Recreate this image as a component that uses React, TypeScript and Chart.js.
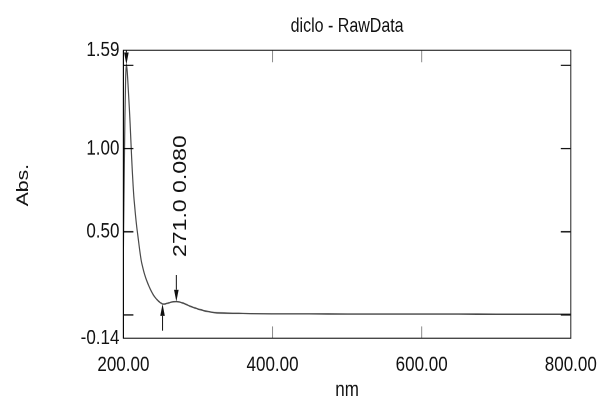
import React, { useEffect, useRef } from "react";
import { Chart, registerables } from "chart.js";

Chart.register(...registerables);

// ---------- data ----------
const TITLE = "diclo - RawData";
const X_LABEL = "nm";
const Y_LABEL = "Abs.";

const WAVELENGTHS = [
  200, 201, 202, 203, 204, 205, 206, 207, 208, 209, 210, 211, 212, 213, 214, 215, 216, 217, 218, 219, 220,
  222, 224, 226, 228, 230, 232, 234, 236, 238, 240,
  243, 246, 249, 252, 255, 258, 261, 264, 267,
  271, 275, 279, 283, 288, 294, 300, 307, 314, 322, 330, 340, 355, 370,
  400, 450, 500, 550, 600, 650, 700, 750, 800,
];
const ABSORBANCE = [
  0.40, 0.80, 1.18, 1.42, 1.505, 1.47, 1.40, 1.32, 1.24, 1.15, 1.05, 0.95, 0.86, 0.78, 0.71, 0.66, 0.61, 0.565, 0.525, 0.49, 0.455,
  0.385, 0.325, 0.285, 0.25, 0.222, 0.198, 0.176, 0.156, 0.138, 0.122,
  0.103, 0.088, 0.076, 0.067, 0.066, 0.069, 0.073, 0.077, 0.079,
  0.080, 0.078, 0.073, 0.066, 0.056, 0.045, 0.036, 0.027, 0.020, 0.015, 0.012, 0.010, 0.009, 0.008,
  0.007, 0.007, 0.006, 0.006, 0.006, 0.006, 0.005, 0.005, 0.005,
];

const X_MIN = 200;
const X_MAX = 800;
const Y_MIN = -0.14;
const Y_MAX = 1.59;
const X_TICKS = [200, 400, 600, 800];
const X_INNER_MARKS = [400, 600];
const Y_TICKS = [-0.14, 0, 0.5, 1.0, 1.5, 1.59];
const Y_TICK_LABELS = ["-0.14", "", "0.50", "1.00", "", "1.59"];
const Y_INNER_MARKS = [0, 0.5, 1.0, 1.5];

const PEAK_NM = 271.0;
const PEAK_ABS = 0.08;
const VALLEY_NM = 252.5;
const VALLEY_ABS = 0.066;
const MAIN_PEAK_NM = 204;
const MAIN_PEAK_ABS = 1.505;

// ---------- layout / style ----------
const W = 608;
const H = 320;
const SY = 399 / 320; // vertical stretch of the picture
const FONT = "'Liberation Sans', Arial, sans-serif";

const decor = {
  id: "decor",
  afterDraw(chart: any) {
    const { ctx, chartArea: ca } = chart;
    const xs = chart.scales.x;
    const ys = chart.scales.y;
    ctx.save();

    // inner tick marks
    ctx.lineWidth = 1;
    ctx.strokeStyle = "#000";
    for (const v of Y_INNER_MARKS) {
      const y = ys.getPixelForValue(v);
      ctx.beginPath();
      ctx.moveTo(ca.left, y);
      ctx.lineTo(ca.left + 10, y);
      ctx.moveTo(ca.right, y);
      ctx.lineTo(ca.right - 10, y);
      ctx.stroke();
    }
    ctx.strokeStyle = "#8c8c8c";
    for (const v of X_INNER_MARKS) {
      const x = xs.getPixelForValue(v);
      ctx.beginPath();
      ctx.moveTo(x, ca.bottom);
      ctx.lineTo(x, ca.bottom - 9.6);
      ctx.moveTo(x, ca.top);
      ctx.lineTo(x, ca.top + 9.6);
      ctx.stroke();
    }

    // frame
    ctx.strokeStyle = "#222";
    ctx.lineWidth = 1;
    ctx.strokeRect(ca.left, ca.top, ca.right - ca.left, ca.bottom - ca.top);
    ctx.strokeStyle = "#000";
    ctx.beginPath();
    ctx.moveTo(ca.left, ca.top);
    ctx.lineTo(ca.left, ca.bottom);
    ctx.stroke();

    // peak / valley arrows
    const arrow = (x: number, tipY: number, dir: number, stemStart?: number) => {
      const head = 9.6;
      const stem = 21.4;
      const from = stemStart !== undefined ? stemStart : tipY - dir * stem;
      ctx.strokeStyle = "#111";
      ctx.fillStyle = "#111";
      ctx.lineWidth = 1;
      ctx.beginPath();
      ctx.moveTo(x, from);
      ctx.lineTo(x, tipY - dir * head);
      ctx.stroke();
      ctx.beginPath();
      ctx.moveTo(x, tipY);
      ctx.lineTo(x - 2.3, tipY - dir * head);
      ctx.lineTo(x + 2.3, tipY - dir * head);
      ctx.closePath();
      ctx.fill();
    };
    ctx.save();
    ctx.beginPath();
    ctx.rect(ca.left, ca.top, ca.right - ca.left, ca.bottom - ca.top);
    ctx.clip();
    const px = xs.getPixelForValue(PEAK_NM);
    const py = ys.getPixelForValue(PEAK_ABS);
    arrow(px, py, 1);
    arrow(xs.getPixelForValue(VALLEY_NM), ys.getPixelForValue(VALLEY_ABS), -1);
    arrow(xs.getPixelForValue(MAIN_PEAK_NM), ys.getPixelForValue(MAIN_PEAK_ABS), 1, ca.top);
    ctx.restore();

    // peak label (rotated)
    ctx.fillStyle = "#111";
    ctx.save();
    ctx.translate(px + 9.5, py - 35.8);
    ctx.rotate(-Math.PI / 2);
    ctx.font = `18.5px ${FONT}`;
    ctx.textAlign = "left";
    ctx.textBaseline = "alphabetic";
    ctx.fillText(`${PEAK_NM.toFixed(1)} ${PEAK_ABS.toFixed(3)}`, 0, 0);
    ctx.restore();

    // title
    ctx.fillStyle = "#111";
    ctx.font = `16px ${FONT}`;
    ctx.textAlign = "center";
    ctx.textBaseline = "alphabetic";
    ctx.fillText(TITLE, (ca.left + ca.right) / 2, 25.4);

    // x axis title
    ctx.font = `17px ${FONT}`;
    ctx.fillText(X_LABEL, (ca.left + ca.right) / 2, 317.6);

    // y axis title
    ctx.save();
    ctx.translate(28, 148.4);
    ctx.rotate(-Math.PI / 2);
    ctx.textAlign = "center";
    ctx.fillText(Y_LABEL, 0, 0);
    ctx.restore();

    ctx.restore();
  },
};

export default function App() {
  const ref = useRef<HTMLCanvasElement | null>(null);

  useEffect(() => {
    if (!ref.current) return;
    const chart = new Chart(ref.current, {
      type: "line",
      data: {
        datasets: [
          {
            data: WAVELENGTHS.map((x, i) => ({ x, y: ABSORBANCE[i] })),
            borderColor: "#4a4a4a",
            borderWidth: 1.2,
            pointRadius: 0,
            cubicInterpolationMode: "monotone",
            fill: false,
          },
        ],
      },
      options: {
        animation: false,
        responsive: false,
        devicePixelRatio: 2,
        layout: { padding: { top: 40.34, right: 26.3, left: 0, bottom: 0 } },
        plugins: { legend: { display: false }, title: { display: false }, tooltip: { enabled: false } },
        scales: {
          x: {
            type: "linear",
            min: X_MIN,
            max: X_MAX,
            grid: { display: false, drawTicks: false },
            border: { display: false },
            afterBuildTicks: (s: any) => {
              s.ticks = X_TICKS.map((v) => ({ value: v }));
            },
            afterFit: (s: any) => {
              s.height = 48.7;
            },
            ticks: {
              padding: 11.2,
              maxRotation: 0,
              autoSkip: false,
              color: "#111",
              font: { family: FONT, size: 17 },
              callback: (v: any) => Number(v).toFixed(2),
            },
          },
          y: {
            type: "linear",
            min: Y_MIN,
            max: Y_MAX,
            grid: { display: false, drawTicks: false },
            border: { display: false },
            afterBuildTicks: (s: any) => {
              s.ticks = Y_TICKS.map((v) => ({ value: v }));
            },
            afterFit: (s: any) => {
              s.width = 123.4;
            },
            ticks: {
              padding: 4,
              autoSkip: false,
              color: "#111",
              font: { family: FONT, size: 17 },
              callback: (v: any) => {
                const i = Y_TICKS.findIndex((t) => Math.abs(t - Number(v)) < 1e-6);
                return i >= 0 ? Y_TICK_LABELS[i] : "";
              },
            },
          },
        },
      },
      plugins: [decor],
    } as any);
    return () => chart.destroy();
  }, []);

  return (
    <div
      style={{
        position: "fixed",
        left: 0,
        top: 0,
        width: 608,
        height: 399,
        overflow: "hidden",
        background: "#fff",
      }}
    >
      <div style={{ width: W, height: H, transform: `scaleY(${SY})`, transformOrigin: "0 0" }}>
        <canvas ref={ref} width={W} height={H} />
      </div>
    </div>
  );
}
